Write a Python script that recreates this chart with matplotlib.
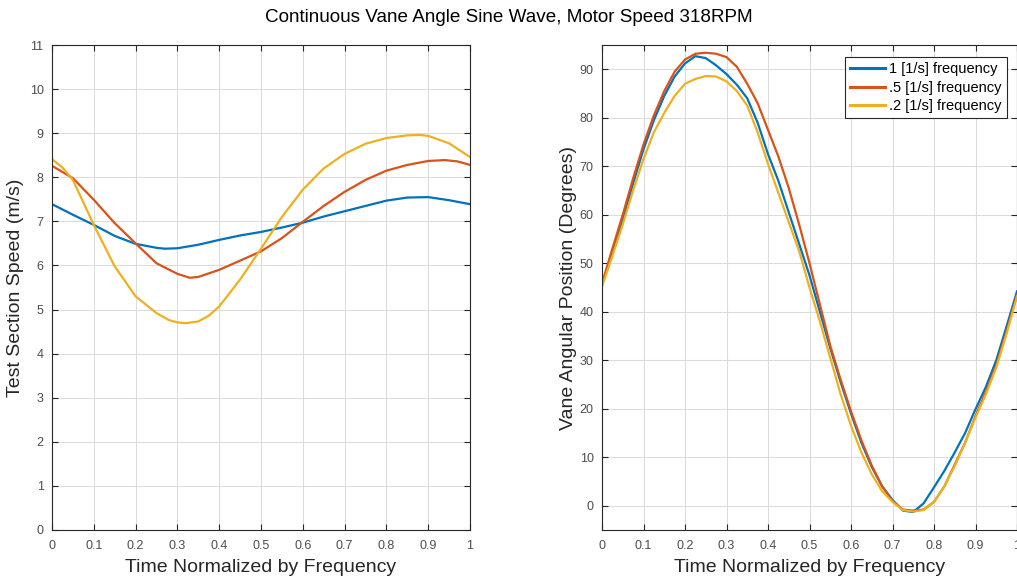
import matplotlib
matplotlib.use("Agg")
import matplotlib.pyplot as plt

plt.rcParams['font.family'] = ['Liberation Sans', 'DejaVu Sans']

# ---------------- data ----------------
title = "Continuous Vane Angle Sine Wave, Motor Speed 318RPM"
series_labels = ["1 [1/s] frequency", ".5 [1/s] frequency", ".2 [1/s] frequency"]

# Left panel: test section speed (m/s)
spd_blue_x = [0, .05, .1, .15, .2, .25, .27, .3, .35, .4, .45, .5, .55, .6, .65, .7, .75, .8, .85, .9, .95, 1]
spd_blue_y = [7.39, 7.15, 6.92, 6.67, 6.49, 6.40, 6.38, 6.39, 6.47, 6.58, 6.68, 6.76, 6.86, 6.97, 7.11, 7.23, 7.35, 7.47, 7.54, 7.55, 7.48, 7.39]

spd_red_x = [0, .05, .1, .15, .2, .25, .3, .33, .35, .4, .45, .5, .55, .6, .65, .7, .75, .8, .85, .9, .94, .97, 1]
spd_red_y = [8.26, 7.98, 7.49, 6.96, 6.50, 6.05, 5.81, 5.72, 5.74, 5.90, 6.11, 6.32, 6.62, 6.99, 7.35, 7.67, 7.94, 8.15, 8.28, 8.37, 8.39, 8.36, 8.28]

spd_yel_x = [0, .025, .05, .1, .15, .2, .25, .28, .3, .32, .35, .375, .4, .45, .5, .55, .6, .65, .7, .75, .8, .85, .88, .9, .95, 1]
spd_yel_y = [8.41, 8.22, 7.94, 6.92, 5.98, 5.30, 4.92, 4.76, 4.71, 4.69, 4.73, 4.86, 5.07, 5.68, 6.38, 7.10, 7.72, 8.20, 8.53, 8.76, 8.89, 8.95, 8.96, 8.94, 8.77, 8.46]

# Right panel: vane angular position (degrees)
ang_x = [0, .025, .05, .075, .1, .125, .15, .175, .2, .225, .25, .275, .3, .325, .35, .375, .4,
         .425, .45, .475, .5, .525, .55, .575, .6, .625, .65, .675, .7, .725, .75, .775, .8,
         .825, .85, .875, .9, .925, .95, .975, 1]
ang_blue_y = [45.5, 52.5, 59.0, 66.5, 73.5, 79.5, 84.5, 88.5, 91.2, 92.7, 92.3, 90.8, 89.0, 86.8, 84.0, 79.0, 72.5,
              67.0, 60.5, 54.0, 47.5, 40.0, 32.5, 25.5, 19.0, 13.0, 8.0, 4.0, 1.2, -1.0, -1.3, 0.5, 3.8,
              7.2, 11.0, 15.0, 19.9, 24.5, 30.0, 37.0, 44.2]
ang_red_y = [45.8, 53.0, 60.0, 67.5, 74.5, 80.5, 85.5, 89.5, 92.0, 93.2, 93.4, 93.2, 92.5, 90.5, 87.0, 83.0, 77.5,
             72.0, 65.5, 58.0, 50.0, 41.5, 33.0, 26.0, 19.5, 13.5, 8.3, 4.0, 1.0, -0.8, -1.0, -0.8, 0.8,
             4.0, 8.5, 13.0, 18.5, 23.5, 29.0, 36.0, 43.5]
ang_yel_y = [45.2, 51.5, 58.0, 65.0, 71.5, 77.0, 81.0, 84.5, 87.0, 88.0, 88.6, 88.5, 87.5, 85.5, 82.5, 77.0, 70.5,
             64.5, 58.5, 52.5, 45.0, 38.0, 30.5, 23.0, 16.5, 11.0, 6.5, 3.0, 0.8, -0.9, -1.2, -0.9, 0.8,
             4.0, 8.2, 13.0, 18.2, 23.0, 28.5, 35.5, 43.2]

x_ticks = [0, .1, .2, .3, .4, .5, .6, .7, .8, .9, 1]
x_tick_labels = ["0", "0.1", "0.2", "0.3", "0.4", "0.5", "0.6", "0.7", "0.8", "0.9", "1"]
left_yticks = list(range(0, 12))
right_yticks = list(range(0, 100, 10))

# ---------------- styling ----------------
colors = ["#0072BD", "#D95319", "#EDB120"]
tick_col = "#4d4d4d"
spine_col = "#262626"
grid_col = "#dcdcdc"

fig = plt.figure(figsize=(10.17, 5.80), dpi=100)
W, H = 1017, 580
axL = fig.add_axes([52 / W, (H - 530) / H, (470 - 52) / W, (530 - 45) / H])
axR = fig.add_axes([602 / W, (H - 530) / H, (1017 - 602) / W, (530 - 45) / H])

lw = 1.6
axL.plot(spd_blue_x, spd_blue_y, color=colors[0], lw=lw)
axL.plot(spd_red_x, spd_red_y, color=colors[1], lw=lw)
axL.plot(spd_yel_x, spd_yel_y, color=colors[2], lw=lw)

axR.plot(ang_x, ang_blue_y, color=colors[0], lw=lw, label=series_labels[0])
axR.plot(ang_x, ang_red_y, color=colors[1], lw=lw, label=series_labels[1])
axR.plot(ang_x, ang_yel_y, color=colors[2], lw=lw, label=series_labels[2])

axL.set_xlim(0, 1)
axL.set_ylim(0, 11)
axL.set_yticks(left_yticks)
axR.set_xlim(0, 1)
axR.set_ylim(-5, 95)
axR.set_yticks(right_yticks)

for ax in (axL, axR):
    ax.set_xticks(x_ticks)
    ax.set_xticklabels(x_tick_labels)
    ax.grid(True, color=grid_col, lw=0.8)
    ax.set_axisbelow(True)
    ax.tick_params(direction="in", length=4, width=0.8, colors=spine_col,
                   labelcolor=tick_col, labelsize=9, top=True, right=True)
    ax.tick_params(axis="x", pad=7)
    ax.tick_params(axis="y", pad=6)
    for s in ax.spines.values():
        s.set_color(spine_col)
        s.set_linewidth(0.8)
    ax.set_xlabel("Time Normalized by Frequency", fontsize=14, color="#262626", labelpad=5)

axL.set_ylabel("Test Section Speed (m/s)", fontsize=14, color="#262626", labelpad=4)
axR.set_ylabel("Vane Angular Position (Degrees)", fontsize=14, color="#262626", labelpad=2)

leg = axR.legend(loc="upper right", fontsize=10.5, frameon=True, fancybox=False,
                 handlelength=2.4, borderpad=0.35, labelspacing=0.3, handletextpad=0.3,
                 borderaxespad=0, bbox_to_anchor=(0.976, 0.975))
leg.get_frame().set_edgecolor(spine_col)
leg.get_frame().set_linewidth(0.8)
leg.get_frame().set_alpha(1)
for h in leg.get_lines():
    h.set_linewidth(2.2)

fig.suptitle(title, fontsize=13.6, y=0.985)

fig.savefig("out.png", dpi=100)
